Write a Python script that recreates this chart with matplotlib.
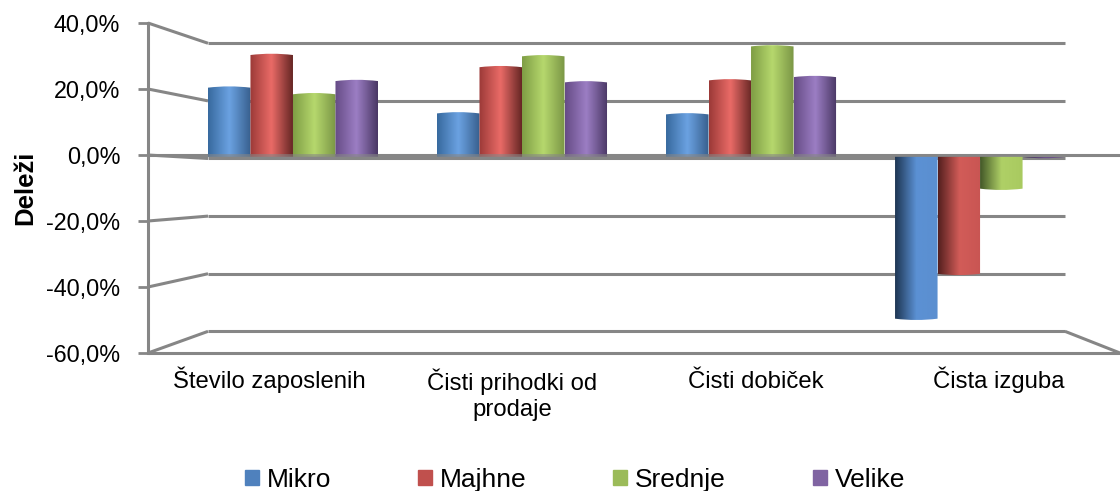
#!/usr/bin/env python3
# plot.py - 3D looking column chart (cylinders) with Excel style walls
import numpy as np
import matplotlib
matplotlib.use("Agg")
import matplotlib.pyplot as plt
from matplotlib.colors import LinearSegmentedColormap
from matplotlib.patches import Patch, PathPatch
from matplotlib.path import Path

# ----------------------------
# Data
categories = ["Število zaposlenih", "Čisti prihodki od\nprodaje", "Čisti dobiček", "Čista izguba"]
series_names = ["Mikro", "Majhne", "Srednje", "Velike"]
mikro = [20.8, 13.0, 12.7, -50.0]
majhne = [30.7, 27.0, 23.0, -36.4]
srednje = [18.8, 30.3, 33.3, -10.6]
velike = [22.8, 22.4, 24.0, -1.0]
y_ticks = [40, 20, 0, -20, -40, -60]
y_tick_labels = ["40,0%", "20,0%", "0,0%", "-20,0%", "-40,0%", "-60,0%"]
# ----------------------------

W, H = 1120, 491
GRID = "#868686"
LEGEND_COLORS = ["#4f81bd", "#c0504d", "#9bbb59", "#8064a2"]
# left edge, centre, right edge for columns pointing up
UP_SHADES = [
    ["#386a9f", "#6ba2e2", "#38608e"],
    ["#9c3a38", "#ea6b67", "#672725"],
    ["#7f9e45", "#b6d86d", "#7b9746"],
    ["#664c86", "#9c7ec4", "#4a3865"],
]
# columns pointing down are lit from the right
DOWN_SHADES = [
    ["#1e3654", "#5b91d4", "#5b8fd0"],
    ["#55201f", "#d25c58", "#c95553"],
    ["#445828", "#afd066", "#a9ca60"],
    ["#3a2c4e", "#6a5288", "#6a5288"],
]
BAR_BASE = -0.5  # columns stand a bit below the front zero line
BAR_W = 0.1856
X_MIN, X_MAX = -0.633, 3.611


def wall(v):
    # level on the back wall for a value on the front axis
    return -1.06 + 0.873 * v


fig = plt.figure(figsize=(W / 100, H / 100), dpi=100)
plt.rcParams["font.family"] = ["Liberation Sans", "DejaVu Sans"]
ax = fig.add_axes([148 / W, (H - 353) / H, 972 / W, 330 / H])

WALL_L, WALL_R = -0.371, 3.371
line_kw = dict(color=GRID, lw=2.2, clip_on=False, solid_capstyle="butt", zorder=2)

# back wall grid and the side wall diagonals
for t in y_ticks:
    ax.plot([WALL_L, WALL_R], [wall(t), wall(t)], **line_kw)
    ax.plot([X_MIN, WALL_L], [t, wall(t)], **line_kw)
# floor
ax.plot([WALL_R, X_MAX], [wall(-60), -60], **line_kw)
ax.plot([X_MIN, X_MAX], [-60, -60], **line_kw)
ax.plot([X_MIN, X_MAX], [0, 0], **line_kw)

# columns
x = np.arange(len(categories))
all_series = [mikro, majhne, srednje, velike]
for s, vals in enumerate(all_series):
    vals = np.array(vals)
    pos = x + (s - 1.5) * BAR_W
    bars = ax.bar(pos, vals - BAR_BASE, BAR_W, bottom=BAR_BASE, color="none", zorder=3)
    for bar, v in zip(bars, vals):
        x0, w = bar.get_x(), bar.get_width()
        shades = UP_SHADES[s] if v > 0 else DOWN_SHADES[s]
        cmap = LinearSegmentedColormap.from_list("cyl", shades)
        tip = BAR_BASE + bar.get_height()
        sag = 0.4 if v > 0 else -0.4
        # side walls plus a slightly curved end
        outline = Path(
            [(x0, BAR_BASE), (x0, tip - sag), (x0 + w / 2, tip + sag), (x0 + w, tip - sag),
             (x0 + w, BAR_BASE), (x0, BAR_BASE)],
            [Path.MOVETO, Path.LINETO, Path.CURVE3, Path.CURVE3, Path.LINETO, Path.CLOSEPOLY],
        )
        clip = PathPatch(outline, transform=ax.transData, fc="none", ec="none")
        ax.add_patch(clip)
        lo, hi = sorted([BAR_BASE, tip + sag])
        im = ax.imshow(np.linspace(0, 1, 64).reshape(1, -1), cmap=cmap, aspect="auto",
                       extent=(x0, x0 + w, lo, hi), zorder=3, interpolation="bilinear")
        im.set_clip_path(clip)

# front zero line runs over the columns, a bit see through
ax.plot([X_MIN, X_MAX], [0, 0], color=GRID, lw=2.0, alpha=0.6, clip_on=False,
        solid_capstyle="butt", zorder=4)
edges = np.linspace(X_MIN, X_MAX, 5)
ax.vlines(edges[1:-1], -1.2, 0.3, color=GRID, lw=1.2, zorder=2)

ax.set_xlim(X_MIN, X_MAX)
ax.set_ylim(-60, 40)
for name in ["top", "right", "bottom"]:
    ax.spines[name].set_visible(False)
ax.spines["left"].set_color(GRID)
ax.spines["left"].set_linewidth(2.2)

centers = (edges[:-1] + edges[1:]) / 2
ax.set_xticks(centers)
ax.set_xticklabels(categories, fontsize=17.2, linespacing=1.24, va="baseline")
ax.tick_params(axis="x", length=0, pad=25)
# baseline alignment goes by the last line, so move wrapped labels down one line
for lab in ax.get_xticklabels():
    if "\n" in lab.get_text():
        lab.set_y(-28 / 330)
ax.set_yticks(y_ticks)
ax.set_yticklabels(y_tick_labels, fontsize=16.8)
ax.tick_params(axis="y", length=7, width=2, color=GRID, pad=13)
ax.set_ylabel("Deleži", fontsize=18.5, fontweight="bold", labelpad=0)
ax.yaxis.set_label_coords((37 - 148) / 972, (353 - 188) / 330)

handles = [Patch(color=c) for c in LEGEND_COLORS]
fig.legend(handles, series_names, loc="center", bbox_to_anchor=(575 / W, (H - 480) / H), ncol=4,
           frameon=False, fontsize=19, handlelength=0.52, handleheight=0.52,
           handletextpad=0.3, columnspacing=3.3, borderpad=0)

fig.savefig("out.png", dpi=100)
